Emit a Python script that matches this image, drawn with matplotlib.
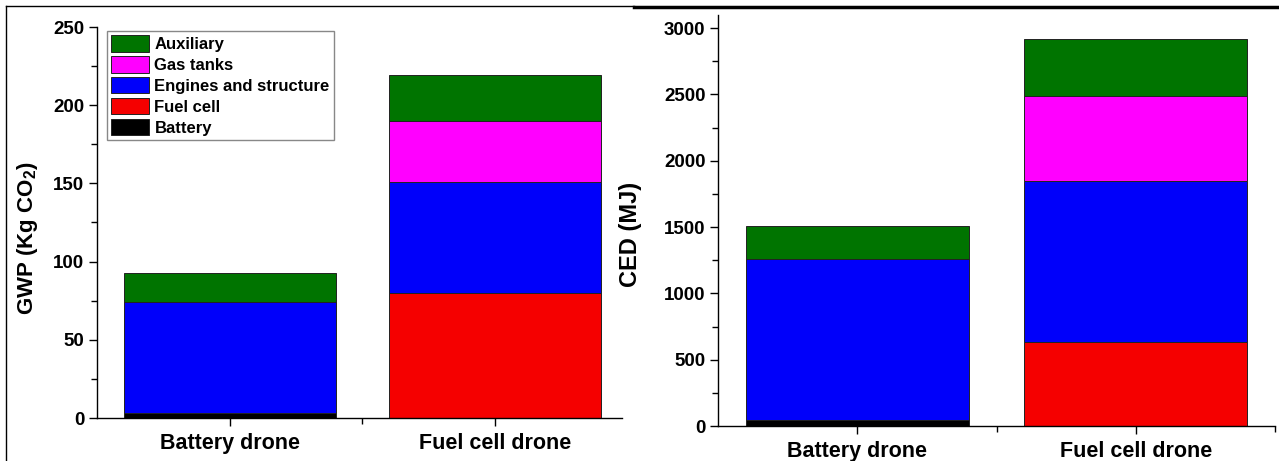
import matplotlib
matplotlib.use("Agg")
import matplotlib.pyplot as plt
from matplotlib.lines import Line2D
from matplotlib.ticker import MultipleLocator, FixedLocator
import numpy as np

plt.rcParams['font.family'] = ['Liberation Sans', 'DejaVu Sans']
plt.rcParams['font.weight'] = 'bold'
plt.rcParams['mathtext.fontset'] = 'custom'
plt.rcParams['mathtext.rm'] = 'Liberation Sans:bold'
plt.rcParams['mathtext.bf'] = 'Liberation Sans:bold'
plt.rcParams['mathtext.default'] = 'bf'

drones = ["Battery drone", "Fuel cell drone"]
parts = ["Battery", "Fuel cell", "Engines and structure", "Gas tanks", "Auxiliary"]
colors = ["#000000", "#f50000", "#0000fa", "#ff00ff", "#007400"]

# kg CO2 per component, stacked bottom to top
gwp_battery = [3, 0]
gwp_fuelcell = [0, 80]
gwp_engines = [71, 71]
gwp_tanks = [0, 39]
gwp_aux = [19, 29]

# MJ per component
ced_battery = [45, 0]
ced_fuelcell = [0, 633]
ced_engines = [1212, 1213]
ced_tanks = [0, 641]
ced_aux = [252, 430]

gwp = [gwp_battery, gwp_fuelcell, gwp_engines, gwp_tanks, gwp_aux]
ced = [ced_battery, ced_fuelcell, ced_engines, ced_tanks, ced_aux]

fig = plt.figure(figsize=(12.79, 4.61), dpi=100)
W, H = 1279, 461


def px_axes(x0, y0, x1, y1):
    return fig.add_axes([x0 / W, 1 - y1 / H, (x1 - x0) / W, (y1 - y0) / H])


def stacked(ax, data, ymax, major, minor, xmax):
    x = np.arange(1, len(drones) + 1)
    bottom = np.zeros(len(drones))
    bars = []
    for vals, c, name in zip(data, colors, parts):
        b = ax.bar(x, vals, 0.8, bottom=bottom, color=c, edgecolor="#222222",
                   linewidth=0.7, label=name)
        bars.append(b)
        bottom += np.array(vals)
    ax.set_xlim(0.5, xmax)
    ax.set_ylim(0, ymax)
    ax.spines["top"].set_visible(False)
    ax.spines["right"].set_visible(False)
    for s in ["left", "bottom"]:
        ax.spines[s].set_linewidth(1.0)
    ax.set_xticks(x)
    ax.set_xticklabels(drones, fontsize=15.5, fontweight="bold")
    ax.xaxis.set_minor_locator(FixedLocator([1.5, 2.5]))
    ax.yaxis.set_major_locator(MultipleLocator(major))
    ax.yaxis.set_minor_locator(MultipleLocator(minor))
    ax.tick_params(axis="both", which="major", direction="out", length=6, width=1)
    ax.tick_params(axis="both", which="minor", direction="out", length=4, width=1)
    ax.tick_params(axis="y", labelsize=13.5, pad=3)
    ax.tick_params(axis="x", pad=5)
    for t in ax.get_yticklabels():
        t.set_fontweight("bold")
    return bars


ax1 = px_axes(97, 27, 622, 418)
bars1 = stacked(ax1, gwp, 250, 50, 25, 2.48)
ax1.set_ylabel(r"GWP (Kg CO$_{2}$)", fontsize=16, fontweight="bold")
ax1.yaxis.set_label_coords(-0.108, 0.46)
handles = [b[0] for b in bars1][::-1]
leg = ax1.legend(handles, parts[::-1], loc="upper left",
                 bbox_to_anchor=(0.019, 0.99), prop={"weight": "bold", "size": 12},
                 fancybox=False, edgecolor="#888888", framealpha=1,
                 handlelength=2.3, handleheight=1.15, handletextpad=0.3,
                 labelspacing=0.24, borderpad=0.25, borderaxespad=0)
leg.get_frame().set_linewidth(1.0)

ax2 = px_axes(718, 15, 1275, 426)
stacked(ax2, ced, 3098, 500, 250, 2.5)
ax2.set_ylabel("CED (MJ)", fontsize=17, fontweight="bold")
ax2.yaxis.set_label_coords(-0.136, 0.467)

# panel border lines
fig.add_artist(Line2D([6 / W, 6 / W], [0, 1 - 6 / H], transform=fig.transFigure,
                      color="black", linewidth=1.0))
fig.add_artist(Line2D([6 / W, 634 / W], [1 - 6 / H, 1 - 6 / H], transform=fig.transFigure,
                      color="black", linewidth=1.0))
fig.add_artist(Line2D([634 / W, 1], [1 - 7 / H, 1 - 7 / H], transform=fig.transFigure,
                      color="black", linewidth=2.5))

fig.savefig("out.png", dpi=100)
